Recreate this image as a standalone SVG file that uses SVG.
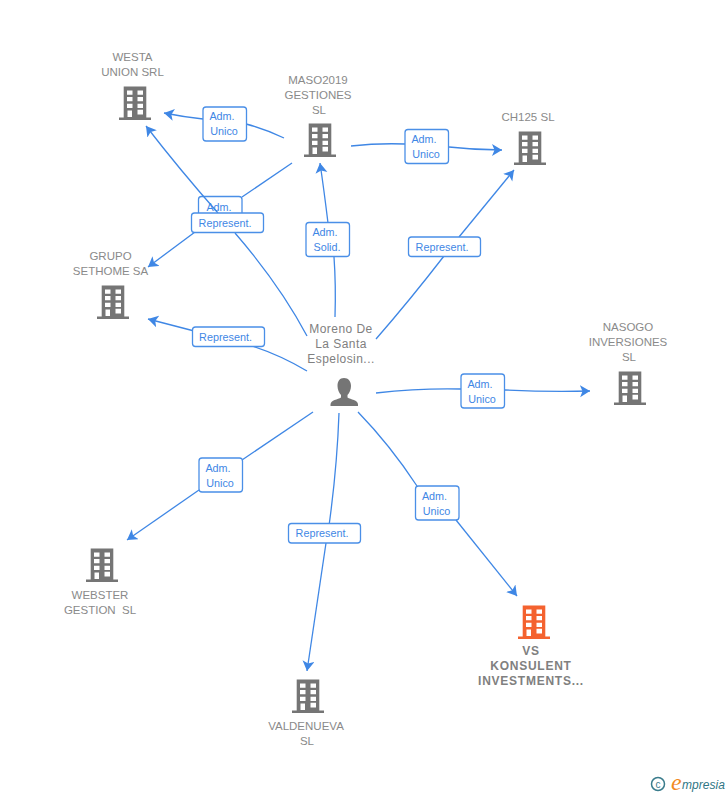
<svg xmlns="http://www.w3.org/2000/svg" width="728" height="795" viewBox="0 0 728 795">
<style>
.n{font:11.500px "Liberation Sans",Arial,sans-serif;fill:#8a8a8a;text-anchor:middle;white-space:pre}
.p{font:12px "Liberation Sans",Arial,sans-serif;fill:#808080;text-anchor:middle;letter-spacing:.45px}
.h{font:bold 12px "Liberation Sans",Arial,sans-serif;fill:#808080;text-anchor:middle;letter-spacing:.75px}
.l{font:10.800px "Liberation Sans",Arial,sans-serif;fill:#3f87e5;text-anchor:middle}
.b{fill:#fff;stroke:#4a8fe7;stroke-width:1.300}
.c{fill:none;stroke:#3f87e5;stroke-width:1.300;marker-end:url(#a)}
.d{fill:none;stroke:#3f87e5;stroke-width:1.300}
</style>
<defs>
<marker id="a" markerUnits="userSpaceOnUse" markerWidth="14" markerHeight="14" refX="10" refY="6" orient="auto"><path d="M0 0L10 6L0 12L2.500 6Z" fill="#3f87e5"/></marker>
<g id="bd"><path d="M-11.300-16.500H11.300V14.500H16V17H-16V14.500H-11.300Z"/><path fill="#fff" d="M-8-12.600h5.500v4.300H-8ZM2.500-12.600H8v4.300H2.500ZM-8-6h5.500v4.300H-8ZM2.500-6H8v4.300H2.500ZM-8 .7h5.500V5H-8ZM2.500 .7H8V5H2.500ZM-7.500 7.400h4.500V14H-7.500ZM2.500 6.700H8v4.800H2.500Z"/></g>
</defs>
<g id="label-under"><rect class="b" x="198.500" y="196.500" width="43.500" height="34" rx="3"/><text class="l" x="219" y="210.500">Adm.</text></g>
<g id="connectors">
<path class="d" d="M284 138Q265 129 246 124"/><path class="c" d="M203 119Q184 117 164 113"/>
<path class="d" d="M292 163L242 197"/>
<path class="c" d="M218 213Q180 170 146 126"/>
<path class="c" d="M195 232L148 267"/>
<path class="d" d="M307 336Q280 285 235 233"/>
<path class="d" d="M335 317Q336 285 334 257"/><path class="c" d="M328 223Q324 190 320 163"/>
<path class="d" d="M351 146Q378 143 405 144"/><path class="c" d="M449 147Q475 150 502 150"/>
<path class="d" d="M376 339Q410 300 444 256"/><path class="c" d="M459 237L514 170"/>
<path class="c" d="M252 346L148 319"/><path class="d" d="M252 346Q280 355 307 371"/>
<path class="d" d="M376 393Q420 388 461 389"/><path class="c" d="M505 390Q548 392 590 391"/>
<path class="d" d="M313 412L242 460"/><path class="c" d="M199 490L127 540"/>
<path class="d" d="M339 413Q337 470 328 533"/><path class="c" d="M326 543L307 671"/>
<path class="d" d="M358 412Q390 445 417 486"/><path class="c" d="M456 520L517 596"/>
</g>
<g id="edge-labels">
<g><rect class="b" x="203" y="107" width="43.500" height="34" rx="3"/><text class="l" x="222" y="120">Adm.</text><text class="l" x="224" y="135">Unico</text></g>
<g><rect class="b" x="191.500" y="213" width="72" height="19.500" rx="3"/><text class="l" x="225" y="226.500">Represent.</text></g>
<g><rect class="b" x="306" y="222.500" width="43.500" height="34" rx="3"/><text class="l" x="325" y="236">Adm.</text><text class="l" x="327" y="251">Solid.</text></g>
<g><rect class="b" x="405" y="129.500" width="43.500" height="34" rx="3"/><text class="l" x="424" y="143">Adm.</text><text class="l" x="426" y="158">Unico</text></g>
<g><rect class="b" x="408.500" y="237" width="72" height="19.500" rx="3"/><text class="l" x="442" y="250.500">Represent.</text></g>
<g><rect class="b" x="192.500" y="327" width="72" height="19.500" rx="3"/><text class="l" x="225.500" y="340.500">Represent.</text></g>
<g><rect class="b" x="461" y="374" width="43.500" height="34" rx="3"/><text class="l" x="480" y="387.500">Adm.</text><text class="l" x="482" y="402.500">Unico</text></g>
<g><rect class="b" x="199" y="458" width="43.500" height="34" rx="3"/><text class="l" x="218" y="471.500">Adm.</text><text class="l" x="220" y="486.500">Unico</text></g>
<g><rect class="b" x="288.500" y="523.500" width="72" height="19.500" rx="3"/><text class="l" x="322" y="537">Represent.</text></g>
<g><rect class="b" x="415.500" y="486" width="43.500" height="34" rx="3"/><text class="l" x="434.500" y="499.500">Adm.</text><text class="l" x="436.500" y="514.500">Unico</text></g>
</g>
<g id="westa"><use href="#bd" x="135" y="103" fill="#757575"/><text class="n" x="132.500" y="61">WESTA</text><text class="n" x="132.500" y="76">UNION SRL</text></g>
<g id="maso"><use href="#bd" x="320" y="140" fill="#757575"/><text class="n" x="318" y="84">MASO2019</text><text class="n" x="318" y="99">GESTIONES</text><text class="n" x="319" y="114">SL</text></g>
<g id="ch125"><use href="#bd" x="530" y="148" fill="#757575"/><text class="n" x="528" y="121">CH125 SL</text></g>
<g id="grupo"><use href="#bd" x="113" y="302" fill="#757575"/><text class="n" x="110.500" y="260">GRUPO</text><text class="n" x="110.500" y="275">SETHOME SA</text></g>
<g id="nasogo"><use href="#bd" x="630" y="388" fill="#757575"/><text class="n" x="628" y="331">NASOGO</text><text class="n" x="628" y="346">INVERSIONES</text><text class="n" x="629" y="361">SL</text></g>
<g id="webster"><use href="#bd" x="102" y="565" fill="#757575"/><text class="n" x="100" y="599">WEBSTER</text><text class="n" x="100" y="614">GESTION  SL</text></g>
<g id="valdenueva"><use href="#bd" x="308" y="696" fill="#757575"/><text class="n" x="306" y="730">VALDENUEVA</text><text class="n" x="307" y="745">SL</text></g>
<g id="vs"><use href="#bd" x="534" y="622" fill="#f4622f"/><text class="h" x="531" y="655">VS</text><text class="h" x="531" y="670">KONSULENT</text><text class="h" x="531" y="685">INVESTMENTS...</text></g>
<g id="moreno"><path d="M344 378c-4.500 0-6.500 3.500-6.500 8 0 3.500 1.500 7 3.500 9v2.500c-3 2-10.500 2.500-10.500 7v1.500h27.500v-1.500c0-4.500-7.500-5-10.500-7v-2.500c2-2 3.500-5.500 3.500-9 0-4.500-2.500-8-7-8Z" fill="#757575"/><text class="p" x="341" y="333">Moreno De</text><text class="p" x="341" y="348">La Santa</text><text class="p" x="341" y="363">Espelosin...</text></g>
<g id="logo"><circle cx="658" cy="784" r="6.500" fill="none" stroke="#3a7c8c" stroke-width="1.500"/><text x="658" y="787.500" font-family="Liberation Sans,sans-serif" font-size="10" fill="#3a7c8c" text-anchor="middle">c</text><text x="671" y="790" font-family="Liberation Serif,serif" font-style="italic" font-size="24" fill="#f28a1e">e</text><text x="682" y="789" font-family="Liberation Sans,sans-serif" font-style="italic" font-size="12" fill="#2f7685" textLength="43">mpresia</text></g>
</svg>
